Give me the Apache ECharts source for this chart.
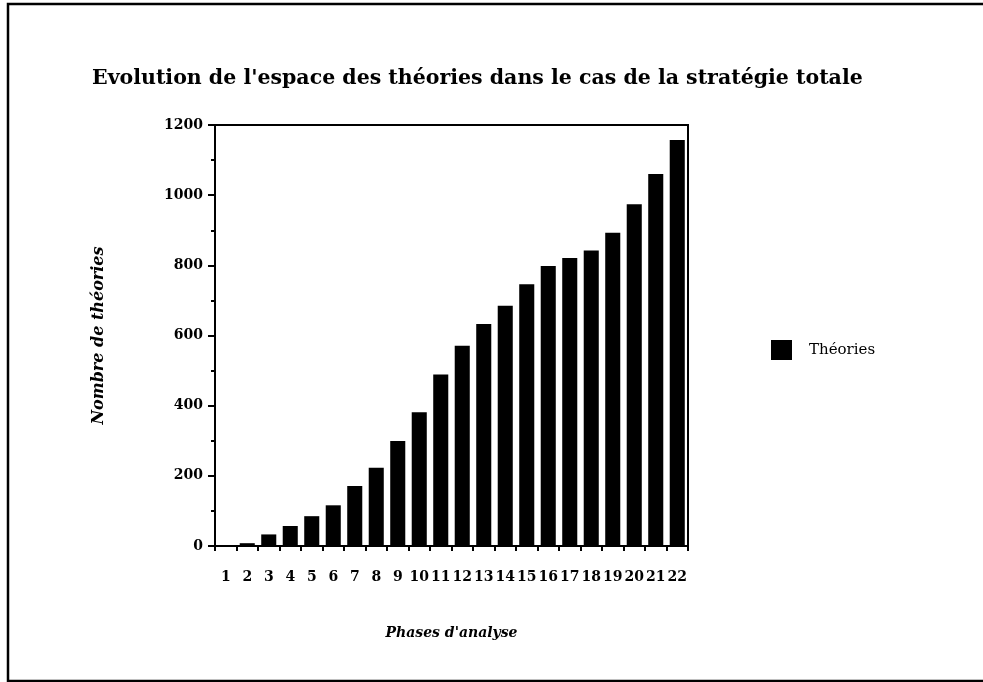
<!DOCTYPE html>
<html>
<head>
<meta charset="utf-8">
<script src="https://cdn.jsdelivr.net/npm/echarts@6/dist/echarts.min.js"></script>
<style>
  html, body { margin: 0; padding: 0; background: #fff; }
  #chart { width: 983px; height: 682px; }
</style>
</head>
<body>
<div id="chart"></div>
<script>
// Phases of analysis and the number of theories at each phase
const phases = ['1','2','3','4','5','6','7','8','9','10','11','12','13','14','15','16','17','18','19','20','21','22'];
const theories = [1, 8, 33, 57, 85, 116, 171, 223, 299, 381, 489, 571, 633, 685, 746, 798, 821, 842, 893, 974, 1060, 1157];
const yTicks = { min: 0, max: 1200, step: 200 };
const seriesName = 'Théories';

const FONT = '"DejaVu Serif", "Liberation Serif", serif';

const chart = echarts.init(document.getElementById('chart'), null, { renderer: 'canvas' });

chart.setOption({
  animation: false,
  backgroundColor: '#fff',
  title: {
    text: "Evolution de l'espace des théories dans le cas de la stratégie totale",
    left: 87,
    top: 63,
    textStyle: { fontFamily: FONT, fontSize: 20.5, fontWeight: 'bold', color: '#000' }
  },
  legend: {
    data: [seriesName],
    orient: 'vertical',
    left: 766,
    top: 335,
    itemWidth: 21,
    itemHeight: 20,
    itemGap: 10,
    icon: 'rect',
    textStyle: { fontFamily: FONT, fontSize: 15, color: '#000', padding: [0, 0, 0, 12] }
  },
  grid: {
    left: 215,
    right: 295,
    top: 125,
    bottom: 136,
    show: true,
    borderColor: '#000',
    borderWidth: 2,
    backgroundColor: 'transparent'
  },
  xAxis: {
    type: 'category',
    data: phases,
    name: "Phases d'analyse",
    nameLocation: 'middle',
    nameGap: 80,
    nameTextStyle: { fontFamily: FONT, fontSize: 14, fontWeight: 'bold', fontStyle: 'italic', color: '#000' },
    axisLine: { lineStyle: { color: '#000', width: 2 } },
    axisTick: { show: true, alignWithLabel: false, length: 5, lineStyle: { color: '#000', width: 2 } },
    axisLabel: { interval: 0, margin: 24, fontFamily: FONT, fontSize: 14, fontWeight: 'bold', color: '#000' },
    splitLine: { show: false }
  },
  yAxis: {
    type: 'value',
    min: yTicks.min,
    max: yTicks.max,
    interval: yTicks.step,
    name: 'Nombre de théories',
    nameLocation: 'middle',
    nameGap: 108,
    nameTextStyle: { fontFamily: FONT, fontSize: 16, fontWeight: 'bold', fontStyle: 'italic', color: '#000' },
    axisLine: { show: true, lineStyle: { color: '#000', width: 2 } },
    axisTick: { show: true, length: 7, lineStyle: { color: '#000', width: 2 } },
    minorTick: { show: true, splitNumber: 2, length: 4, lineStyle: { color: '#000', width: 2 } },
    axisLabel: {
      margin: 12, fontFamily: FONT, fontSize: 14, fontWeight: 'bold', color: '#000',
      formatter: (v) => String(v)
    },
    splitLine: { show: false }
  },
  series: [{
    name: seriesName,
    type: 'bar',
    data: theories,
    barCategoryGap: '30%',
    itemStyle: { color: '#000' }
  }],
  graphic: [{
    type: 'polyline',
    shape: { points: [[983, 4], [8, 4], [8, 681], [983, 681]] },
    style: { stroke: '#000', lineWidth: 2.5, fill: null }
  }]
});
</script>
</body>
</html>
